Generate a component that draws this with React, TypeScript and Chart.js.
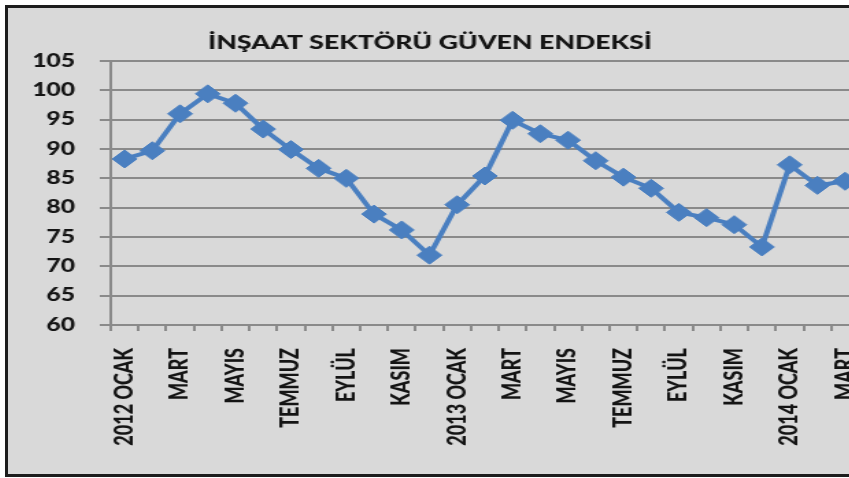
import React, { useEffect, useRef } from "react";
import { Chart, registerables } from "chart.js";

Chart.register(...registerables);

const TITLE = "İNŞAAT SEKTÖRÜ GÜVEN ENDEKSİ";

const categories = [
  "2012 OCAK", "ŞUBAT", "MART", "NİSAN", "MAYIS", "HAZİRAN",
  "TEMMUZ", "AĞUSTOS", "EYLÜL", "EKİM", "KASIM", "ARALIK",
  "2013 OCAK", "ŞUBAT", "MART", "NİSAN", "MAYIS", "HAZİRAN",
  "TEMMUZ", "AĞUSTOS", "EYLÜL", "EKİM", "KASIM", "ARALIK",
  "2014 OCAK", "ŞUBAT", "MART",
];

const values = [
  88.3, 89.7, 96.0, 99.4, 97.8, 93.4, 89.9, 86.7, 85.0, 78.9, 76.2, 71.9,
  80.5, 85.4, 94.9, 92.6, 91.5, 88.0, 85.2, 83.3, 79.2, 78.3, 77.1, 73.3,
  87.3, 83.8, 84.5,
];

const yMin = 60;
const yMax = 105;
const yStep = 5;

const S = 1.37; // horizontal stretch of the picture
const W = 640;
const H = 466;

export default function App() {
  const ref = useRef<HTMLCanvasElement>(null);

  useEffect(() => {
    const canvas = ref.current!;
    const titlePlugin = {
      id: "customTitle",
      afterDraw(chart: any) {
        const ctx = chart.ctx;
        ctx.save();
        ctx.font = "900 19.5px Lato";
        ctx.fillStyle = "#141414";
        ctx.textAlign = "center";
        ctx.textBaseline = "middle";
        ctx.fillText(TITLE, 308, 35);
        ctx.restore();
      },
    };
    const lineColor = "#4a7fc0";
    const gridColor = "#8a8a8a";
    const tickFont = { family: "Lato", weight: "900" as any, size: 18 };
    const chart = new Chart(canvas, {
      type: "line",
      data: {
        labels: categories,
        datasets: [
          {
            data: values,
            borderColor: lineColor,
            backgroundColor: lineColor,
            borderWidth: 4,
            pointStyle: "rectRot",
            pointRadius: 9,
            pointBorderWidth: 1,
            pointBackgroundColor: lineColor,
            pointBorderColor: lineColor,
            tension: 0,
            clip: false,
          },
        ],
      },
      options: {
        responsive: false,
        animation: false,
        devicePixelRatio: 1,
        layout: { padding: { top: 53, left: 0, right: W - 621, bottom: 0 } },
        plugins: {
          legend: { display: false },
          title: { display: false },
          tooltip: { enabled: false },
        },
        scales: {
          x: {
            offset: true,
            grid: {
              offset: true,
              drawOnChartArea: false,
              drawTicks: true,
              tickLength: 6,
              color: gridColor,
              lineWidth: 2,
            },
            border: { display: true, color: gridColor, width: 2 },
            ticks: {
              autoSkip: false,
              maxRotation: 90,
              minRotation: 90,
              padding: 17,
              color: "#141414",
              font: tickFont,
              callback: (_v: any, i: number) => (i % 2 === 0 ? categories[i] : ""),
            },
            afterFit: (s: any) => {
              s.height = 149;
              s.paddingLeft = 0;
              s.paddingRight = 0;
            },
          },
          y: {
            min: yMin,
            max: yMax,
            ticks: {
              stepSize: yStep,
              padding: 18,
              color: "#141414",
              font: tickFont,
            },
            grid: { color: gridColor, lineWidth: 2, tickLength: 8 },
            border: { display: true, color: gridColor, width: 2 },
            afterFit: (s: any) => {
              s.width = 75;
              s.paddingTop = 0;
              s.paddingBottom = 0;
            },
          },
        },
      },
      plugins: [titlePlugin],
    });
    return () => chart.destroy();
  }, []);

  return (
    <div
      style={{
        position: "fixed",
        left: 0,
        top: 0,
        width: 849,
        height: 478,
        overflow: "hidden",
        background: "#ffffff",
      }}
    >
      <div
        style={{
          position: "absolute",
          left: 5,
          top: 5,
          width: 900,
          height: 472,
          boxSizing: "border-box",
          border: "3px solid #1c1c1c",
          borderRight: "none",
          background: "#d9d9d9",
        }}
      >
        <canvas
          ref={ref}
          width={W}
          height={H}
          style={{ width: W * S + "px", height: H + "px", display: "block" }}
        />
      </div>
    </div>
  );
}
